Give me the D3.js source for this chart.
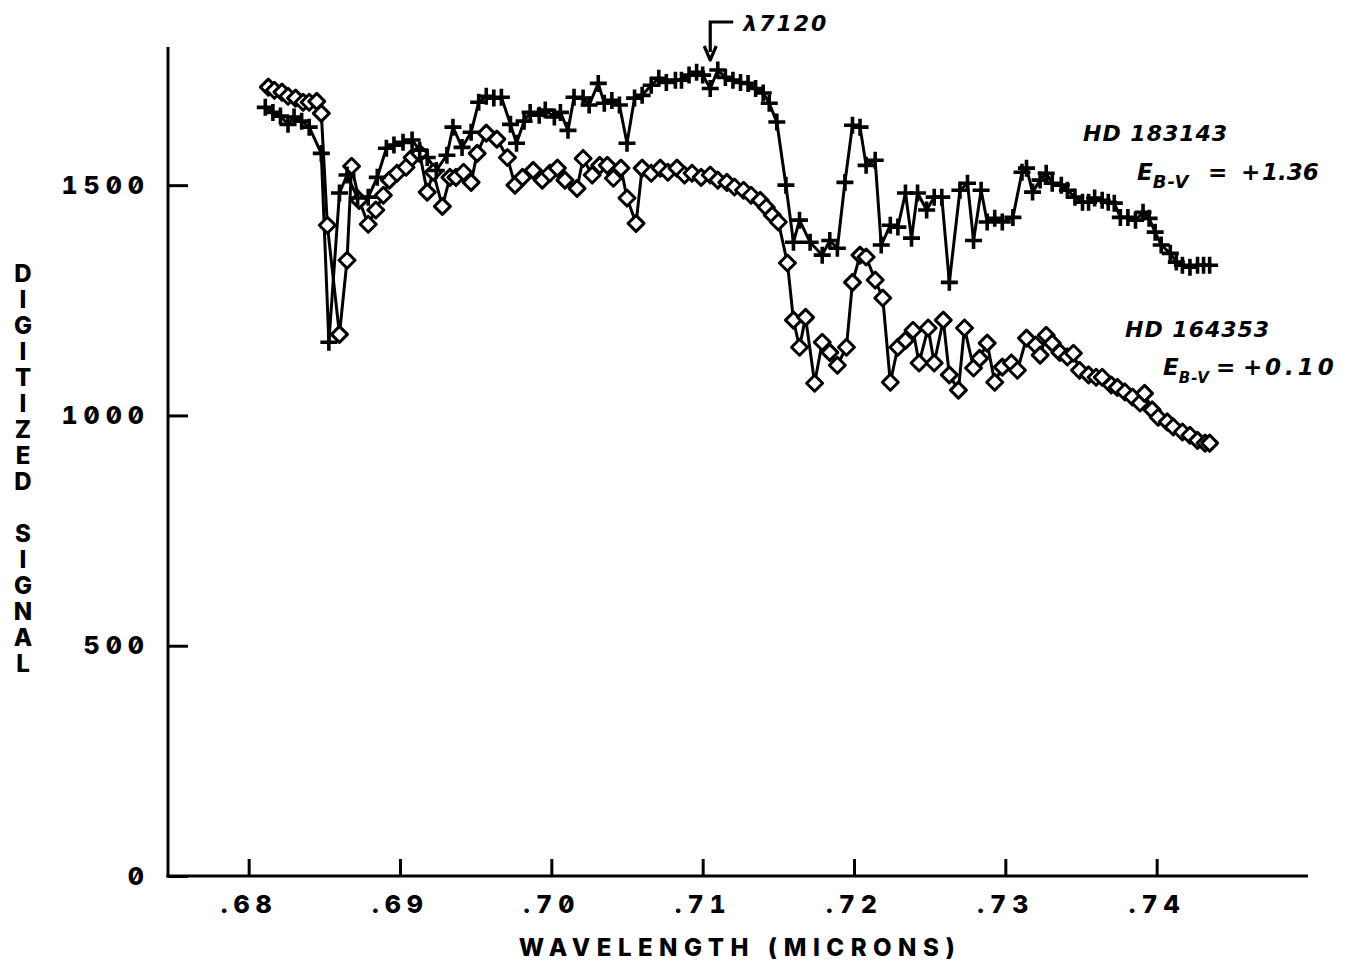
<!DOCTYPE html>
<html>
<head>
<meta charset="utf-8">
<script src="https://cdn.jsdelivr.net/npm/d3@7"></script>
<style>
  body { margin: 0; background: #fff; }
  svg { display: block; }
  .plotter { font-family: Inter, 'DejaVu Sans', sans-serif; font-weight: 800;
             font-feature-settings: "zero" 1, "tnum" 1; font-variant-numeric: slashed-zero tabular-nums; }
  .hand { font-family: 'DejaVu Sans', sans-serif; font-style: italic; font-weight: bold; }
  .stacked { writing-mode: vertical-rl; text-orientation: upright; }
</style>
</head>
<body>
<svg id="chart" width="1351" height="970"></svg>
<script>
// Spectrum of the reddened supergiant HD 183143: [wavelength (microns), digitized signal]
const hd183143 = [
  [.6811,1669],[.6816,1658],[.6821,1650],[.6826,1632],[.6830,1648],[.6835,1639],[.6840,1626],[.6848,1569],
  [.6853,1159],[.6860,1483],[.6865,1522],[.6872,1472],[.6879,1474],[.6885,1517],[.6891,1580],[.6896,1587],
  [.6902,1593],[.6908,1598],[.6913,1576],[.6918,1560],[.6924,1532],[.6931,1565],[.6935,1626],[.6941,1582],
  [.6947,1615],[.6952,1680],[.6957,1693],[.6962,1689],[.6967,1691],[.6973,1632],[.6977,1591],[.6982,1639],
  [.6986,1658],[.6992,1652],[.6996,1663],[.7002,1648],[.7006,1658],[.7011,1619],[.7015,1691],[.7021,1689],
  [.7025,1674],[.7031,1721],[.7035,1678],[.7040,1684],[.7045,1674],[.7050,1591],[.7055,1689],[.7060,1695],
  [.7066,1717],[.7071,1732],[.7076,1723],[.7082,1728],[.7086,1728],[.7091,1739],[.7096,1745],[.7100,1739],
  [.7105,1710],[.7110,1750],[.7115,1734],[.7120,1728],[.7125,1723],[.7130,1721],[.7135,1710],[.7140,1700],
  [.7144,1678],[.7149,1637],[.7155,1500],[.7160,1376],[.7164,1424],[.7171,1376],[.7179,1348],[.7184,1380],
  [.7189,1363],[.7194,1506],[.7199,1630],[.7204,1626],[.7208,1543],[.7214,1554],[.7218,1370],[.7224,1413],
  [.7229,1409],[.7234,1483],[.7238,1385],[.7242,1483],[.7248,1446],[.7253,1474],[.7258,1474],[.7263,1289],
  [.7270,1489],[.7275,1504],[.7279,1380],[.7284,1489],[.7288,1420],[.7293,1428],[.7298,1420],[.7305,1430],
  [.7311,1528],[.7314,1537],[.7318,1485],[.7323,1511],[.7327,1526],[.7331,1504],[.7337,1500],[.7341,1489],
  [.7346,1474],[.7351,1463],[.7355,1463],[.7359,1472],[.7364,1467],[.7368,1463],[.7372,1461],[.7376,1430],
  [.7381,1430],[.7386,1424],[.7391,1441],[.7395,1428],[.7399,1398],[.7403,1370],[.7409,1352],[.7413,1333],
  [.7417,1326],[.7422,1322],[.7427,1326],[.7431,1326],[.7435,1326]
];

// Spectrum of the lightly reddened comparison star HD 164353
const hd164353 = [
  [.6813,1713],[.6817,1706],[.6822,1702],[.6826,1693],[.6831,1689],[.6836,1680],[.6840,1680],[.6845,1682],
  [.6848,1656],[.6852,1413],[.6860,1176],[.6865,1337],[.6868,1541],[.6873,1467],[.6879,1415],[.6884,1446],
  [.6889,1478],[.6893,1511],[.6898,1526],[.6904,1539],[.6908,1560],[.6913,1569],[.6918,1485],[.6922,1528],
  [.6928,1454],[.6933,1517],[.6937,1517],[.6942,1528],[.6947,1506],[.6951,1569],[.6957,1613],[.6964,1600],
  [.6971,1560],[.6976,1500],[.6981,1517],[.6988,1532],[.6994,1511],[.6999,1526],[.7004,1537],[.7009,1511],
  [.7017,1493],[.7021,1558],[.7027,1522],[.7032,1543],[.7037,1543],[.7041,1515],[.7046,1537],[.7050,1472],
  [.7056,1417],[.7060,1537],[.7066,1526],[.7072,1537],[.7077,1528],[.7083,1537],[.7088,1522],[.7093,1526],
  [.7099,1517],[.7105,1522],[.7110,1511],[.7116,1506],[.7121,1496],[.7127,1489],[.7132,1478],[.7138,1467],
  [.7142,1452],[.7146,1435],[.7150,1420],[.7156,1331],[.7160,1207],[.7164,1148],[.7168,1213],[.7174,1070],
  [.7179,1159],[.7184,1137],[.7189,1109],[.7195,1148],[.7199,1289],[.7204,1348],[.7208,1344],[.7214,1294],
  [.7219,1255],[.7224,1072],[.7229,1148],[.7234,1163],[.7239,1185],[.7243,1114],[.7249,1190],[.7253,1114],
  [.7259,1207],[.7263,1088],[.7269,1055],[.7273,1190],[.7279,1103],[.7283,1124],[.7288,1157],[.7293,1072],
  [.7298,1105],[.7304,1114],[.7308,1098],[.7314,1168],[.7320,1153],[.7323,1131],[.7327,1174],[.7331,1157],
  [.7336,1137],[.7341,1127],[.7345,1135],[.7349,1098],[.7355,1088],[.7360,1083],[.7364,1083],[.7370,1066],
  [.7374,1061],[.7379,1051],[.7384,1040],[.7389,1027],[.7392,1048],[.7397,1012],[.7401,996],[.7407,986],
  [.7411,975],[.7417,964],[.7422,957],[.7427,946],[.7432,940],[.7435,940]
];

const xTickValues = [0.68, 0.69, 0.70, 0.71, 0.72, 0.73, 0.74];
const xTickLabels = [".68", ".69", ".70", ".71", ".72", ".73", ".74"];
const yTickValues = [0, 500, 1000, 1500];
const yTickLabels = ["0", "500", "1000", "1500"];

const markedLine = 0.7105;   // the 7120 A feature flagged with an arrow

const svg = d3.select("#chart");
const x = d3.scaleLinear().domain([0.675, 0.75]).range([173, 1308]);
const y = d3.scaleLinear().domain([0, 1800]).range([876, 47]);
const axisX = 168;

// ---- axes ----
svg.append("line")
  .attr("x1", axisX).attr("x2", axisX)
  .attr("y1", y(0) + 1.5).attr("y2", y(1800))
  .attr("stroke", "#000").attr("stroke-width", 3);
svg.append("line")
  .attr("x1", axisX - 1.5).attr("x2", x(0.75))
  .attr("y1", y(0)).attr("y2", y(0))
  .attr("stroke", "#000").attr("stroke-width", 3);

const gx = svg.append("g")
  .attr("transform", `translate(0,${y(0)})`)
  .call(d3.axisBottom(x)
    .tickValues(xTickValues)
    .tickFormat((d, i) => xTickLabels[i])
    .tickSizeInner(-17).tickSizeOuter(0).tickPadding(19));
gx.select(".domain").remove();
gx.selectAll(".tick line").attr("stroke", "#000").attr("stroke-width", 3);
gx.selectAll(".tick text")
  .attr("class", "plotter")
  .attr("font-size", 25).attr("fill", "#000")
  .attr("letter-spacing", 6).attr("dx", 0);

const gy = svg.append("g")
  .attr("transform", `translate(${axisX},0)`)
  .call(d3.axisLeft(y)
    .tickValues(yTickValues)
    .tickFormat((d, i) => yTickLabels[i])
    .tickSizeInner(-20).tickSizeOuter(0).tickPadding(18));
gy.select(".domain").remove();
gy.selectAll(".tick line").attr("stroke", "#000").attr("stroke-width", 3);
gy.selectAll(".tick text")
  .attr("class", "plotter")
  .attr("font-size", 25).attr("fill", "#000")
  .attr("letter-spacing", 6);

// axis titles
svg.append("text")
  .attr("class", "plotter")
  .attr("x", 740).attr("y", 956)
  .attr("text-anchor", "middle")
  .attr("font-size", 24).attr("letter-spacing", 6.5)
  .text("WAVELENGTH (MICRONS)");

// vertical title, letters stacked upright
svg.append("text")
  .attr("class", "plotter stacked")
  .attr("x", 23).attr("y", 259)
  .attr("font-size", 24).attr("letter-spacing", -3)
  .text("DIGITIZED SIGNAL");

// ---- spectra ----
const line = d3.line().x(d => x(d[0])).y(d => y(d[1]));

[hd164353, hd183143].forEach(series => {
  svg.append("path")
    .datum(series)
    .attr("fill", "none")
    .attr("stroke", "#000")
    .attr("stroke-width", 3)
    .attr("stroke-linejoin", "round")
    .attr("d", line);
});

// diamonds for HD 164353
svg.append("g").selectAll("path")
  .data(hd164353)
  .join("path")
  .attr("transform", d => `translate(${x(d[0])},${y(d[1])})`)
  .attr("d", "M0,-8L8,0L0,8L-8,0Z")
  .attr("fill", "#fff")
  .attr("stroke", "#000")
  .attr("stroke-width", 3)
  .attr("stroke-linejoin", "round");

// crosses for HD 183143
svg.append("g").selectAll("path")
  .data(hd183143)
  .join("path")
  .attr("transform", d => `translate(${x(d[0])},${y(d[1])})`)
  .attr("d", "M-8.5,0H8.5M0,-8.5V8.5")
  .attr("stroke", "#000")
  .attr("stroke-width", 3.6)
  .attr("fill", "none");

// ---- annotations ----
const ax = x(markedLine);
svg.append("path")
  .attr("d", `M${ax + 23},22H${ax}V52`)
  .attr("fill", "none").attr("stroke", "#000").attr("stroke-width", 3.2);
svg.append("path")
  .attr("d", `M${ax - 6},46L${ax},60L${ax + 6},46`)
  .attr("fill", "none").attr("stroke", "#000").attr("stroke-width", 3.2)
  .attr("stroke-linejoin", "round");
svg.append("text")
  .attr("class", "hand")
  .attr("x", ax + 33).attr("y", 31)
  .attr("font-size", 22).attr("letter-spacing", 2)
  .text("λ7120");

function starLabel(xp, yp, name, ex) {
  svg.append("text")
    .attr("class", "hand")
    .attr("x", xp).attr("y", yp)
    .attr("font-size", 22).attr("letter-spacing", 1)
    .text(name);
  const t = svg.append("text")
    .attr("class", "hand")
    .attr("y", ex.y)
    .attr("font-size", 23);
  t.append("tspan").attr("x", ex.e).text("E");
  t.append("tspan").attr("dy", 8).attr("font-size", ex.sub).attr("letter-spacing", 1).text("B-V");
  t.append("tspan").attr("x", ex.eq).attr("dy", -8).text("=");
  t.append("tspan").attr("x", ex.plus).text("+");
  t.append("tspan").attr("x", ex.num).attr("letter-spacing", ex.ls).text(ex.value);
}
starLabel(1083, 141, "HD 183143", { y: 180, e: 1137, sub: 18, eq: 1208, plus: 1241, num: 1262, ls: 0, value: "1.36" });
starLabel(1125, 337, "HD 164353", { y: 375, e: 1163, sub: 15, eq: 1216, plus: 1243, num: 1265, ls: 4, value: "0.10" });
</script>
</body>
</html>
